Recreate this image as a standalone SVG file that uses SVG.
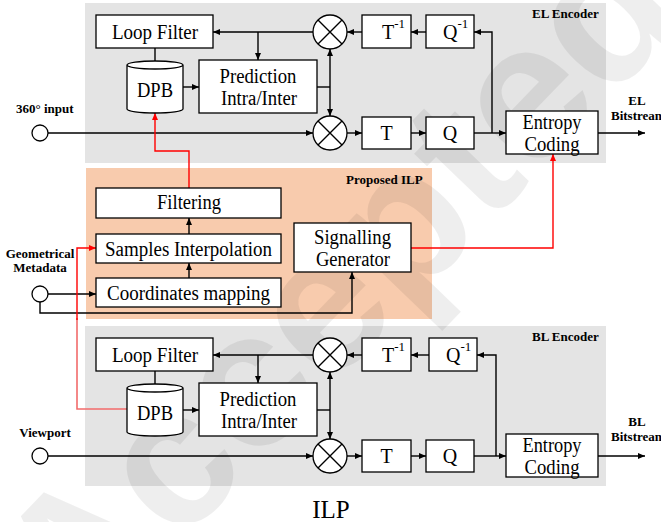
<svg xmlns="http://www.w3.org/2000/svg" width="661" height="522" viewBox="0 0 661 522">
<style>
.bg{fill:#e4e4e4}
.ilp{fill:#f8cbad}
.box{fill:#fff;stroke:#000;stroke-width:1.3}
.t{font-family:"Liberation Serif","Times New Roman",serif;font-size:20px;fill:#000;text-anchor:middle}
.s{font-family:"Liberation Serif","Times New Roman",serif;font-size:20px;fill:#000}
.lb{font-family:"Liberation Serif","Times New Roman",serif;font-size:13px;font-weight:bold;fill:#000}
.c{stroke:#000;stroke-width:1.4;fill:none}
.ca{stroke:#000;stroke-width:1.4;fill:none;marker-end:url(#ah)}
.ra{stroke:#ff0000;stroke-width:1.4;fill:none;marker-end:url(#rh)}
.rp{stroke:#f26b6b;stroke-width:1.6;fill:none}
.wm{font-family:"Liberation Sans",Arial,sans-serif;font-size:195px;font-weight:bold;fill:#000;fill-opacity:0.065}
</style>
<defs>
<marker id="ah" markerUnits="userSpaceOnUse" markerWidth="7" markerHeight="6" refX="7" refY="3" orient="auto"><path d="M0,0 L7,3 L0,6 Z" fill="#000"/></marker>
<marker id="rh" markerUnits="userSpaceOnUse" markerWidth="7" markerHeight="6" refX="7" refY="3" orient="auto"><path d="M0,0 L7,3 L0,6 Z" fill="#ff0000"/></marker>
</defs>
<rect width="661" height="522" fill="#fff"/>
<g id="sections">
<rect class="bg" x="85" y="3" width="521" height="160"/>
<rect class="ilp" x="86" y="168" width="346" height="151"/>
<rect class="bg" x="85" y="326" width="521" height="160"/>
</g>
<text class="wm" transform="translate(80,648) rotate(-46)">Accepted</text>
<g id="connectors">
<path class="ca" d="M48,133 H313"/>
<path class="ca" d="M347,133 H362"/>
<path class="ca" d="M411,133 H426"/>
<path class="ca" d="M474,133 H506"/>
<path class="ca" d="M492,133 V32 H474"/>
<path class="ca" d="M426,32 H411"/>
<path class="ca" d="M362,32 H347"/>
<path class="ca" d="M313,32 H213"/>
<path class="ca" d="M258,32 V60"/>
<path class="ca" d="M155,48 V68"/>
<path class="ca" d="M183,87 H199"/>
<path class="c" d="M317,87 H330"/>
<path class="ca" d="M330,87 V49"/>
<path class="ca" d="M330,87 V116"/>
<path class="ca" d="M598,133 H645"/>
<path class="ca" d="M189,278 V263"/>
<path class="ca" d="M189,234 V218"/>
<path class="ca" d="M48,294 H96"/>
<path class="ca" d="M40,302 V313 H352 V272"/>
<path class="ra" d="M189,188 V151 H155 V113"/>
<path class="ra" d="M411,248 H553 V154"/>
<path class="rp" d="M127,409 H77 V318"/>
<path class="ra" d="M77,320 V248 H96"/>
<path class="ca" d="M48,456 H313"/>
<path class="ca" d="M347,456 H362"/>
<path class="ca" d="M411,456 H426"/>
<path class="ca" d="M474,456 H506"/>
<path class="ca" d="M496,456 V355 H477"/>
<path class="ca" d="M429,355 H411"/>
<path class="ca" d="M362,355 H347"/>
<path class="ca" d="M313,355 H213"/>
<path class="ca" d="M258,355 V383"/>
<path class="ca" d="M155,371 V391"/>
<path class="ca" d="M183,410 H199"/>
<path class="c" d="M317,410 H330"/>
<path class="ca" d="M330,410 V372"/>
<path class="ca" d="M330,410 V439"/>
<path class="ca" d="M598,456 H645"/>
</g>
<g id="el-loopfilter"><rect class="box" x="96" y="15" width="117" height="33"/><text class="t" x="155" y="39" textLength="86" lengthAdjust="spacingAndGlyphs">Loop Filter</text></g>
<g id="el-dpb"><path class="box" d="M127,65 V109 A28,4 0 0 0 183,109 V65 A28,4 0 0 0 127,65 Z M127,65 A28,4 0 0 0 183,65"/><text class="t" x="155" y="97" textLength="36" lengthAdjust="spacingAndGlyphs">DPB</text></g>
<g id="el-prediction"><rect class="box" x="199" y="60" width="118" height="53"/><text class="t" x="258" y="83" textLength="77" lengthAdjust="spacingAndGlyphs">Prediction</text><text class="t" x="259" y="105" textLength="76" lengthAdjust="spacingAndGlyphs">Intra/Inter</text></g>
<g id="el-sum1"><circle class="box" cx="330" cy="32" r="17"/><path class="c" d="M318,20 L342,44 M342,20 L318,44"/></g>
<g id="el-sum2"><circle class="box" cx="330" cy="133" r="17"/><path class="c" d="M318,121 L342,145 M342,121 L318,145"/></g>
<g id="el-tinv"><rect class="box" x="362" y="15" width="49" height="33"/><text class="s" x="382" y="39">T<tspan font-size="13" dy="-11">-1</tspan></text></g>
<g id="el-qinv"><rect class="box" x="426" y="15" width="48" height="33"/><text class="s" x="443" y="39">Q<tspan font-size="13" dy="-11">-1</tspan></text></g>
<g id="el-t"><rect class="box" x="362" y="117" width="49" height="32"/><text class="t" x="386.5" y="140">T</text></g>
<g id="el-q"><rect class="box" x="426" y="117" width="48" height="32"/><text class="t" x="450" y="140">Q</text></g>
<g id="el-entropy"><rect class="box" x="506" y="111" width="92" height="43"/><text class="t" x="552" y="129" textLength="59" lengthAdjust="spacingAndGlyphs">Entropy</text><text class="t" x="552" y="151" textLength="55" lengthAdjust="spacingAndGlyphs">Coding</text></g>
<g id="el-input"><circle class="box" cx="40" cy="133" r="8"/></g>
<g id="ilp-filtering"><rect class="box" x="96" y="188" width="185" height="30"/><text class="t" x="189" y="209" textLength="64" lengthAdjust="spacingAndGlyphs">Filtering</text></g>
<g id="ilp-samples"><rect class="box" x="96" y="234" width="185" height="29"/><text class="t" x="188.5" y="256" textLength="167" lengthAdjust="spacingAndGlyphs">Samples Interpolation</text></g>
<g id="ilp-coords"><rect class="box" x="96" y="278" width="185" height="29"/><text class="t" x="188.5" y="300" textLength="163" lengthAdjust="spacingAndGlyphs">Coordinates mapping</text></g>
<g id="ilp-signalling"><rect class="box" x="294" y="223" width="117" height="49"/><text class="t" x="352.5" y="244" textLength="77" lengthAdjust="spacingAndGlyphs">Signalling</text><text class="t" x="353" y="266" textLength="74" lengthAdjust="spacingAndGlyphs">Generator</text></g>
<g id="ilp-geo"><circle class="box" cx="40" cy="294" r="8"/></g>
<g id="bl-loopfilter"><rect class="box" x="96" y="338" width="117" height="33"/><text class="t" x="155" y="362" textLength="86" lengthAdjust="spacingAndGlyphs">Loop Filter</text></g>
<g id="bl-dpb"><path class="box" d="M127,388 V432 A28,4 0 0 0 183,432 V388 A28,4 0 0 0 127,388 Z M127,388 A28,4 0 0 0 183,388"/><text class="t" x="155" y="420" textLength="36" lengthAdjust="spacingAndGlyphs">DPB</text></g>
<g id="bl-prediction"><rect class="box" x="199" y="383" width="118" height="53"/><text class="t" x="258" y="406" textLength="77" lengthAdjust="spacingAndGlyphs">Prediction</text><text class="t" x="259" y="428" textLength="76" lengthAdjust="spacingAndGlyphs">Intra/Inter</text></g>
<g id="bl-sum1"><circle class="box" cx="330" cy="355" r="17"/><path class="c" d="M318,343 L342,367 M342,343 L318,367"/></g>
<g id="bl-sum2"><circle class="box" cx="330" cy="456" r="17"/><path class="c" d="M318,444 L342,468 M342,444 L318,468"/></g>
<g id="bl-tinv"><rect class="box" x="362" y="338" width="49" height="33"/><text class="s" x="382" y="362">T<tspan font-size="13" dy="-11">-1</tspan></text></g>
<g id="bl-qinv"><rect class="box" x="429" y="338" width="48" height="33"/><text class="s" x="446" y="362">Q<tspan font-size="13" dy="-11">-1</tspan></text></g>
<g id="bl-t"><rect class="box" x="362" y="440" width="49" height="32"/><text class="t" x="386.5" y="463">T</text></g>
<g id="bl-q"><rect class="box" x="426" y="440" width="48" height="32"/><text class="t" x="450" y="463">Q</text></g>
<g id="bl-entropy"><rect class="box" x="506" y="434" width="92" height="43"/><text class="t" x="552" y="452" textLength="59" lengthAdjust="spacingAndGlyphs">Entropy</text><text class="t" x="552" y="474" textLength="55" lengthAdjust="spacingAndGlyphs">Coding</text></g>
<g id="bl-viewport"><circle class="box" cx="40" cy="456" r="8"/></g>
<g id="labels">
<text class="lb" x="532" y="18">EL Encoder</text>
<text class="lb" x="16" y="113">360° input</text>
<text class="lb" x="637" y="105" text-anchor="middle">EL</text>
<text class="lb" x="611" y="120">Bitstream</text>
<text class="lb" x="346" y="184">Proposed ILP</text>
<text class="lb" x="40" y="258" text-anchor="middle">Geometrical</text>
<text class="lb" x="40" y="272" text-anchor="middle">Metadata</text>
<text class="lb" x="532" y="341">BL Encoder</text>
<text class="lb" x="637" y="426" text-anchor="middle">BL</text>
<text class="lb" x="611" y="441">Bitstream</text>
<text class="lb" x="45" y="437" text-anchor="middle">Viewport</text>
<text x="331" y="518" text-anchor="middle" font-family="Liberation Serif,'Times New Roman',serif" font-size="25">ILP</text>
</g>
</svg>
